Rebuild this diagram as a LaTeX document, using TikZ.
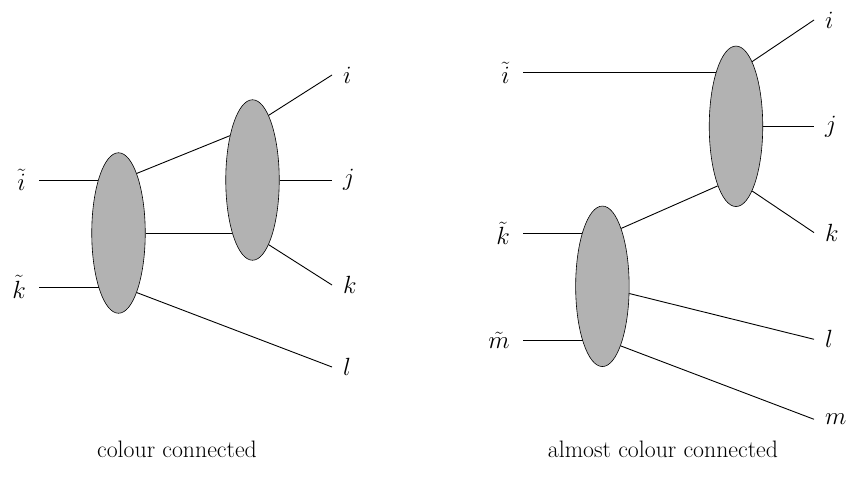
\documentclass[tikz,border=0pt]{standalone}
\usetikzlibrary{shapes.geometric}
\begin{document}
\begin{tikzpicture}[x=1pt,y=-1pt,
  blob/.style={ellipse, draw=black, line width=0.6pt, fill=black!30, minimum width=53.5pt, minimum height=160.5pt, inner sep=0pt},
  leg/.style={line width=0.9pt},
  lbl/.style={inner sep=0pt, font=\fontsize{24.88}{30}\selectfont},
  inlab/.style={lbl, anchor=east, inner xsep=13pt},
  outlab/.style={lbl, anchor=west, inner xsep=11pt},
  captxt/.style={inner sep=0pt, font=\fontsize{23.8}{29}\selectfont}]
\useasboundingbox (0,0) rectangle (852,482);

% ---- left diagram
\node[blob] (e1) at (118.5,233) {};
\node[blob] (e2) at (252.5,180) {};
\node[inlab] (lti) at (39,180) {$\tilde{i}$};
\node[inlab] (ltk) at (39,287) {$\tilde{k}$};
\node[outlab] (li) at (332,75) {$i$};
\node[outlab] (lj) at (332,180) {$j$};
\node[outlab] (lk) at (332,285) {$k$};
\node[outlab] (ll) at (332,367) {$l$};
\draw[leg] (lti.east) -- (lti.east -| e1.111);
\draw[leg] (ltk.east) -- (ltk.east -| e1.250);
\draw[leg] (e1.73) -- (e2.117);
\draw[leg] (e1.east) -- (e1.east -| e2.249);
\draw[leg] (e2.76) -- (li.west);
\draw[leg] (e2.east) -- (lj.west);
\draw[leg] (e2.284) -- (lk.west);
\draw[leg] (e1.287) -- (ll.west);
\node[captxt] (c1) at (177,449) {colour connected};

% ---- right diagram
\node[blob] (e3) at (736,126.3) {};
\node[blob] (e4) at (602.4,286.3) {};
\node[inlab] (rti) at (523,72.7) {$\tilde{i}$};
\node[inlab] (rtk) at (523,233.3) {$\tilde{k}$};
\node[inlab] (rtm) at (523,340) {$\tilde{m}$};
\node[outlab] (ri) at (814,20) {$i$};
\node[outlab] (rj) at (814,126.3) {$j$};
\node[outlab] (rk) at (814,232.6) {$k$};
\node[outlab] (rl) at (814,339.3) {$l$};
\node[outlab] (rm) at (814,419.3) {$m$};
\draw[leg] (rti.east) -- (rti.east -| e3.110);
\draw[leg] (rtk.east) -- (rtk.east -| e4.111);
\draw[leg] (rtm.east) -- (rtm.east -| e4.250);
\draw[leg] (e3.76) -- (ri.west);
\draw[leg] (e3.east) -- (rj.west);
\draw[leg] (e3.284) -- (rk.west);
\draw[leg] (e4.72) -- (e3.253);
\draw[leg] (e4.345) -- (rl.west);
\draw[leg] (e4.287) -- (rm.west);
\node[captxt] (c2) at (663,449) {almost colour connected};
\end{tikzpicture}
\end{document}
